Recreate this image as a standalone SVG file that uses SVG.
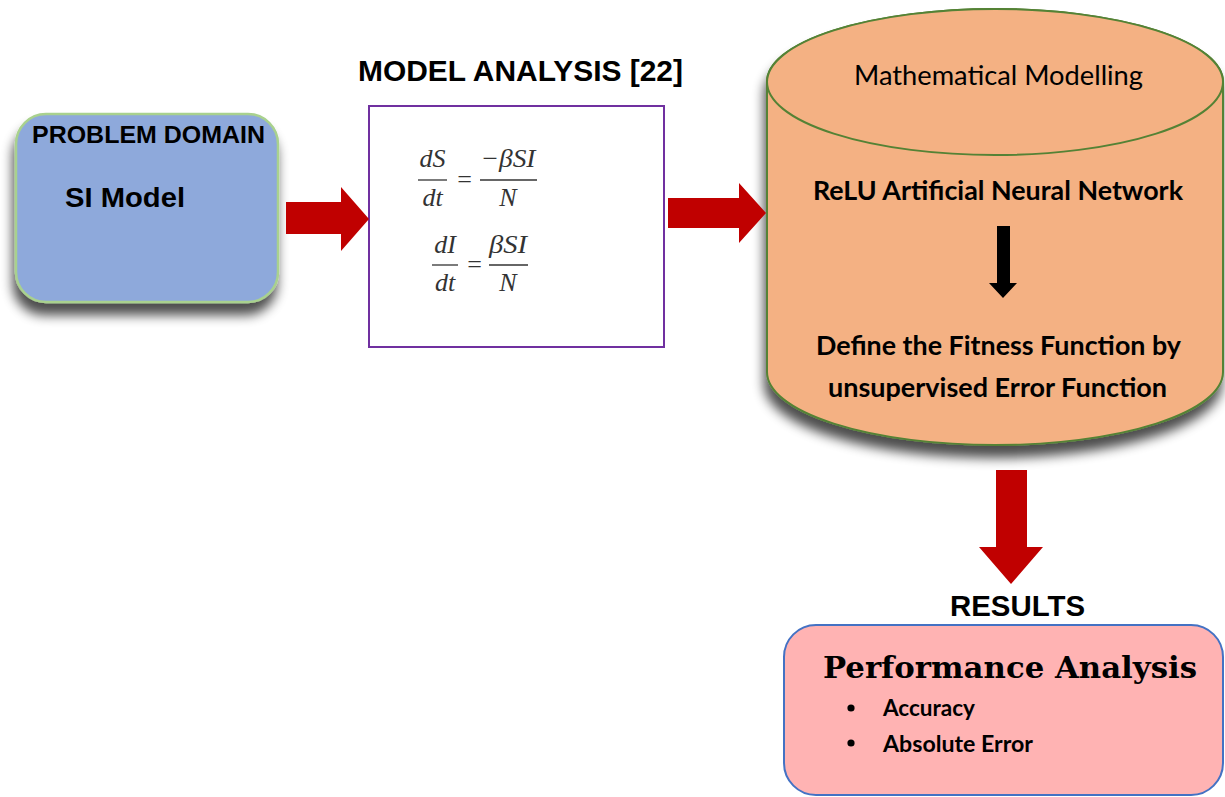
<svg xmlns="http://www.w3.org/2000/svg" width="1225" height="797" viewBox="0 0 1225 797">
  <style>
    .arial { font-family: "Liberation Sans", Arial, sans-serif; font-weight: bold; fill: #000; }
    .cal { font-family: Lato, "Open Sans", sans-serif; fill: #000; }
    .calb { font-family: Lato, "Open Sans", sans-serif; font-weight: bold; fill: #000; }
    .math { font-family: "Liberation Serif", "Times New Roman", serif; font-style: italic; font-size: 26px; fill: #333; }
    .mathop { font-family: "Liberation Serif", "Times New Roman", serif; font-size: 26px; fill: #333; }
    .frac { stroke: #333; stroke-width: 1.3; }
    .red { fill: #C00000; }
  </style>
  <defs>
    <filter id="shadow" x="-10%" y="-10%" width="125%" height="135%">
      <feGaussianBlur in="SourceAlpha" stdDeviation="6"/>
      <feOffset dx="-2" dy="12" result="blur"/>
      <feComponentTransfer><feFuncA type="linear" slope="0.7"/></feComponentTransfer>
      <feMerge><feMergeNode/><feMergeNode in="SourceGraphic"/></feMerge>
    </filter>
  </defs>

  <rect width="1225" height="797" fill="#fff"/>

  <!-- Problem domain -->
  <g id="problem-domain">
    <rect x="16" y="114" width="262" height="188" rx="30" fill="#8EA9DB" stroke="#A9D18E" stroke-width="2.5" filter="url(#shadow)"/>
    <text class="arial" x="32" y="143" font-size="24" textLength="233" lengthAdjust="spacingAndGlyphs">PROBLEM DOMAIN</text>
    <text class="arial" x="65" y="207" font-size="28" textLength="120" lengthAdjust="spacingAndGlyphs">SI Model</text>
  </g>

  <!-- Model analysis -->
  <g id="model-analysis">
    <text class="arial" x="358" y="81" font-size="29" textLength="325" lengthAdjust="spacingAndGlyphs">MODEL ANALYSIS [22]</text>
    <rect x="369" y="106" width="295" height="241" fill="#fff" stroke="#7030A0" stroke-width="2"/>
    <!-- dS/dt = -βSI/N -->
    <text class="math" x="432.5" y="167" text-anchor="middle">dS</text>
    <line class="frac" x1="418" y1="180" x2="447" y2="180"/>
    <text class="math" x="432.5" y="206" text-anchor="middle">dt</text>
    <text class="mathop" x="464.5" y="188" text-anchor="middle">=</text>
    <text class="math" x="508" y="167" text-anchor="middle" textLength="55" lengthAdjust="spacingAndGlyphs">−βSI</text>
    <line class="frac" x1="480" y1="180" x2="537" y2="180"/>
    <text class="math" x="508" y="206" text-anchor="middle">N</text>
    <!-- dI/dt = βSI/N -->
    <text class="math" x="445" y="253" text-anchor="middle">dI</text>
    <line class="frac" x1="432" y1="265" x2="458" y2="265"/>
    <text class="math" x="445" y="291" text-anchor="middle">dt</text>
    <text class="mathop" x="474.5" y="273" text-anchor="middle">=</text>
    <text class="math" x="508" y="253" text-anchor="middle" textLength="38" lengthAdjust="spacingAndGlyphs">βSI</text>
    <line class="frac" x1="489" y1="265" x2="528" y2="265"/>
    <text class="math" x="508" y="291" text-anchor="middle">N</text>
  </g>

  <!-- Mathematical modelling cylinder -->
  <g id="mathematical-modelling">
    <path d="M767,82 L767,372 A228,73 0 0,0 1223,372 L1223,82 A228,73 0 0,0 767,82 Z" fill="#F4B183" stroke="#548235" stroke-width="2" filter="url(#shadow)"/>
    <ellipse cx="995" cy="82" rx="228" ry="73" fill="#F4B183" stroke="#548235" stroke-width="2"/>
    <text class="cal" x="854" y="85" font-size="27" textLength="289" lengthAdjust="spacingAndGlyphs">Mathematical Modelling</text>
    <text class="calb" x="813" y="200" font-size="27" textLength="370" lengthAdjust="spacingAndGlyphs">ReLU Artificial Neural Network</text>
    <polygon points="997,226 1010,226 1010,283 1017,283 1003,298 989,283 997,283" fill="#000"/>
    <text class="calb" x="816" y="355" font-size="27" textLength="365" lengthAdjust="spacingAndGlyphs">Define the Fitness Function by</text>
    <text class="calb" x="828" y="397" font-size="27" textLength="339" lengthAdjust="spacingAndGlyphs">unsupervised Error Function</text>
  </g>

  <!-- Results -->
  <g id="results">
    <text class="arial" x="950" y="616" font-size="29" textLength="135" lengthAdjust="spacingAndGlyphs">RESULTS</text>
    <rect x="784" y="625" width="439" height="170" rx="32" fill="#FFB3B3" stroke="#4472C4" stroke-width="2"/>
    <text x="823" y="678" font-family="'DejaVu Serif', serif" font-weight="bold" font-size="30" textLength="374" lengthAdjust="spacingAndGlyphs" fill="#000">Performance Analysis</text>
    <circle cx="851" cy="708" r="3.6" fill="#000"/>
    <circle cx="851" cy="743" r="3.6" fill="#000"/>
    <text class="calb" x="883" y="716" font-size="22" textLength="92" lengthAdjust="spacingAndGlyphs">Accuracy</text>
    <text class="calb" x="883" y="752" font-size="22" textLength="150" lengthAdjust="spacingAndGlyphs">Absolute Error</text>
  </g>

  <!-- Connectors -->
  <g id="connectors">
    <polygon class="red" points="286,202 341,202 341,187 369,219 341,251 341,234 286,234"/>
    <polygon class="red" points="668,198 739,198 739,183 766,213 739,243 739,228 668,228"/>
    <polygon class="red" points="996,470 1027,470 1027,547 1043,547 1011,584 979,547 996,547"/>
  </g>
</svg>
